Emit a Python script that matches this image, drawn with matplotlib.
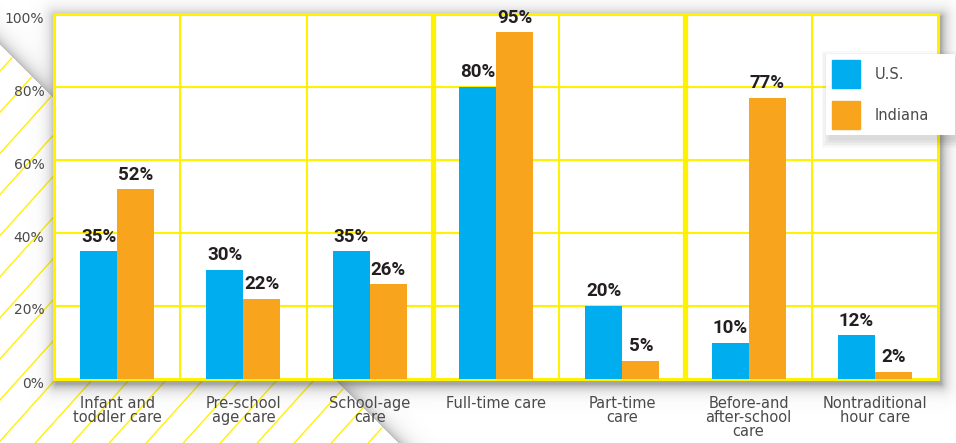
import numpy as np
import matplotlib.pyplot as plt
import matplotlib.transforms as mtransforms
from matplotlib.patches import Polygon, Patch, Rectangle

# Care types and the share of providers offering each (percent)
categories = ["Infant and\ntoddler care", "Pre-school\nage care", "School-age\ncare",
              "Full-time care", "Part-time\ncare", "Before-and\nafter-school\ncare",
              "Nontraditional\nhour care"]
us_pct = [35, 30, 35, 80, 20, 10, 12]
indiana_pct = [52, 22, 26, 95, 5, 77, 2]
y_ticks = [0, 20, 40, 60, 80, 100]

BLUE = '#00AEEF'
ORANGE = '#F8A51D'
YELLOW = '#FFF200'
TEXT = '#4a4a4a'
LABEL_FONT = 'DejaVu Sans'

W, H = 956, 443
fig = plt.figure(figsize=(W / 100, H / 100), dpi=100)
fig.patch.set_facecolor('white')

# plot area in pixels
L, R, T, B = 54, 938, 14, 379

# --- decorative background, drawn in pixel coordinates ---
bg = fig.add_axes([0, 0, 1, 1], zorder=0)
bg.set_xlim(0, W)
bg.set_ylim(H, 0)
bg.axis('off')

# hatched corner below the fold line y = x + 45
fold = Polygon([(0, 45), (H - 45, H), (0, H)], closed=True,
               facecolor='white', edgecolor='none', zorder=0.5)
bg.add_patch(fold)
for c in np.arange(471 - 37 * 14, 471 + 37 * 12, 37):
    ys = np.array([0, H])
    ln, = bg.plot(c - ys * 0.9, ys, color=YELLOW, lw=1.0, zorder=0.6)
    ln.set_clip_path(fold)

# soft shadows: around the plot area and along the fold
xx, yy = np.meshgrid(np.arange(W) + 0.5, np.arange(H) + 0.5)
rl, rr, rt, rb = L + 2, R + 3, T + 3, B + 5
dx = np.maximum.reduce([rl - xx, np.zeros_like(xx), xx - rr])
dy = np.maximum.reduce([rt - yy, np.zeros_like(yy), yy - rb])
d = np.hypot(dx, dy)
a_rect = 0.5 * np.exp(-d / 6.0)
s = (yy - xx - 45) / np.sqrt(2)
a_fold = np.where(s < 0, 0.4 * np.exp(s / 7.0), 0)
alpha = 1 - (1 - a_rect) * (1 - a_fold)
img = np.zeros((H, W, 4))
img[..., :3] = 0.3
img[..., 3] = alpha
bg.imshow(img, extent=(0, W, H, 0), zorder=1, interpolation='bilinear')
bg.set_xlim(0, W)
bg.set_ylim(H, 0)

# --- main chart ---
ax = fig.add_axes([L / W, 1 - B / H, (R - L) / W, (B - T) / H], zorder=2)
ax.set_facecolor('white')

x = np.arange(len(categories))
w = 0.293
b1 = ax.bar(x - w / 2, us_pct, w, color=BLUE, zorder=3, label='U.S.')
b2 = ax.bar(x + w / 2, indiana_pct, w, color=ORANGE, zorder=3, label='Indiana')
for bars in (b1, b2):
    ax.bar_label(bars, labels=[f"{v:.0f}%" for v in bars.datavalues], padding=4,
                 fontsize=13.5, fontweight='bold', family='Roboto', color='#231F20')

ax.set_xlim(-0.5, len(categories) - 0.5)
ax.set_ylim(0, 100)

# yellow grid; heavier dividers between care groups
for v in y_ticks[1:-1]:
    ax.axhline(v, color=YELLOW, lw=1.5, zorder=1)
for k in range(1, len(categories)):
    heavy = k in (3, 5)
    ax.axvline(k - 0.5, color=YELLOW, lw=3.8 if heavy else 1.5, zorder=1)
for sp in ax.spines.values():
    sp.set_color(YELLOW)
    sp.set_linewidth(2.2)

ax.set_yticks(y_ticks)
ax.set_yticklabels([f"{v}%" for v in y_ticks])
ax.set_xticks(x)
ax.set_xticklabels(categories, linespacing=0.95)
ax.tick_params(axis='y', length=0, pad=7, labelsize=10, labelcolor=TEXT)
ax.tick_params(axis='x', length=0, pad=12, labelsize=10.5, labelcolor=TEXT)
for lbl in ax.get_xticklabels():
    lbl.set_family(LABEL_FONT)
    lbl.set_verticalalignment('top')
# y labels sit a few pixels below their gridlines
nudge = mtransforms.ScaledTranslation(0, -3 / 100, fig.dpi_scale_trans)
for lbl in ax.get_yticklabels():
    lbl.set_family(LABEL_FONT)
    lbl.set_transform(lbl.get_transform() + nudge)

# legend box with a soft shadow
handles = [Patch(color=BLUE, label='U.S.'), Patch(color=ORANGE, label='Indiana')]
leg = ax.legend(handles=handles, loc='upper left',
                bbox_to_anchor=(826 / W, 1 - 54 / H),
                bbox_transform=fig.transFigure, handlelength=1.92,
                handleheight=2.58, handletextpad=1.0, labelspacing=0.89,
                borderpad=0.42, borderaxespad=0, fancybox=False, framealpha=1,
                facecolor='white', edgecolor='none',
                prop={'family': LABEL_FONT, 'size': 10.5})
leg.set_zorder(10)
for t in leg.get_texts():
    t.set_color(TEXT)

# the white card runs out to the right edge of the figure
fig.canvas.draw()
bb = leg.get_window_extent()
lx0, ly0 = bb.x0, bb.y0
card_w, card_h = 955 - lx0, bb.height
for i in range(6):
    e = i * 1.5
    ax.add_patch(Rectangle(((lx0 + 3 - e) / W, (ly0 - 5 - e) / H),
                           (card_w + 2 * e) / W, (card_h + 2 * e) / H,
                           transform=fig.transFigure, facecolor='k', alpha=0.025,
                           edgecolor='none', clip_on=False, zorder=9))
ax.add_patch(Rectangle((lx0 / W, ly0 / H), card_w / W, card_h / H,
                       transform=fig.transFigure, facecolor='white',
                       edgecolor='none', clip_on=False, zorder=9.5))

fig.savefig('out.png', dpi=100)
